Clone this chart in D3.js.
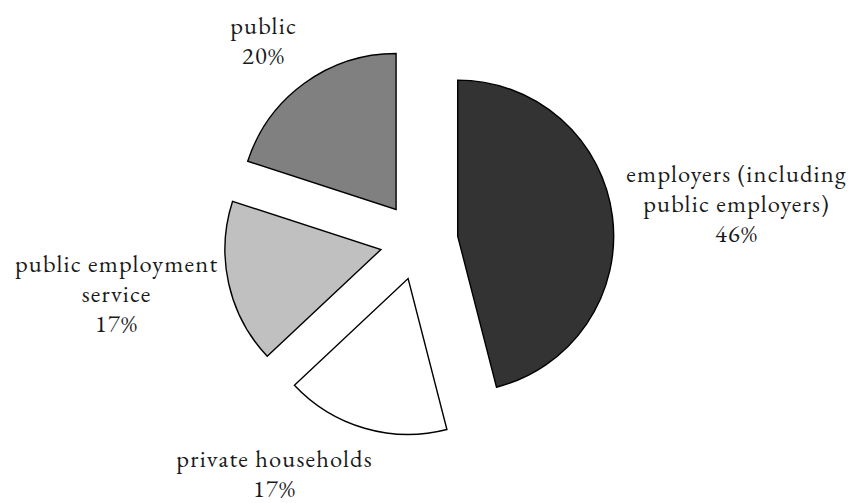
<!DOCTYPE html>
<meta charset="utf-8">
<script src="https://cdn.jsdelivr.net/npm/d3@7/dist/d3.min.js"></script>
<style>
  body { margin: 0; background: #fff; }
</style>
<body>
<script>
// data
var categories = ["employers (including public employers)", "private households", "public employment service", "public"];
var labelLines = [["employers (including", "public employers)"], ["private households"], ["public employment", "service"], ["public"]];
var values = [46, 17, 17, 20];
var colors = ["#333333", "#ffffff", "#c0c0c0", "#808080"];

// layout
var W = 848, H = 503;
var cx = 419, cy = 241, R = 156, explode = 39;
var labelAt = [[736, 182], [274, 467], [116, 272], [263, 34]]; // baseline of first line
var lineGap = 30;

var svg = d3.select("body").append("svg").attr("width", W).attr("height", H);

var pie = d3.pie().sort(null).value(function (d) { return d; });
var arc = d3.arc().innerRadius(0).outerRadius(R);
var arcs = pie(values);

var g = svg.append("g").attr("transform", "translate(" + cx + "," + cy + ")");

g.selectAll("path").data(arcs).enter().append("path")
  .attr("d", arc)
  .attr("transform", function (d) {
    var a = (d.startAngle + d.endAngle) / 2;
    return "translate(" + (Math.sin(a) * explode) + "," + (-Math.cos(a) * explode) + ")";
  })
  .style("fill", function (d, i) { return colors[i]; })
  .style("stroke", "#000")
  .style("stroke-width", 1.4)
  .style("stroke-linejoin", "miter");

// labels
arcs.forEach(function (d, i) {
  var lines = labelLines[i].concat([Math.round(d.value / d3.sum(values) * 100) + "%"]);
  var t = svg.append("text")
    .attr("x", labelAt[i][0] + 0.6).attr("y", labelAt[i][1])
    .attr("text-anchor", "middle")
    .attr("font-family", "'EB Garamond'")
    .attr("font-size", 24.5)
    .attr("letter-spacing", 1.2)
    .attr("fill", "#1a1a1a");
  lines.forEach(function (s, k) {
    t.append("tspan").attr("x", labelAt[i][0] + 0.6).attr("dy", k === 0 ? 0 : lineGap).text(s);
  });
});
</script>
</body>
